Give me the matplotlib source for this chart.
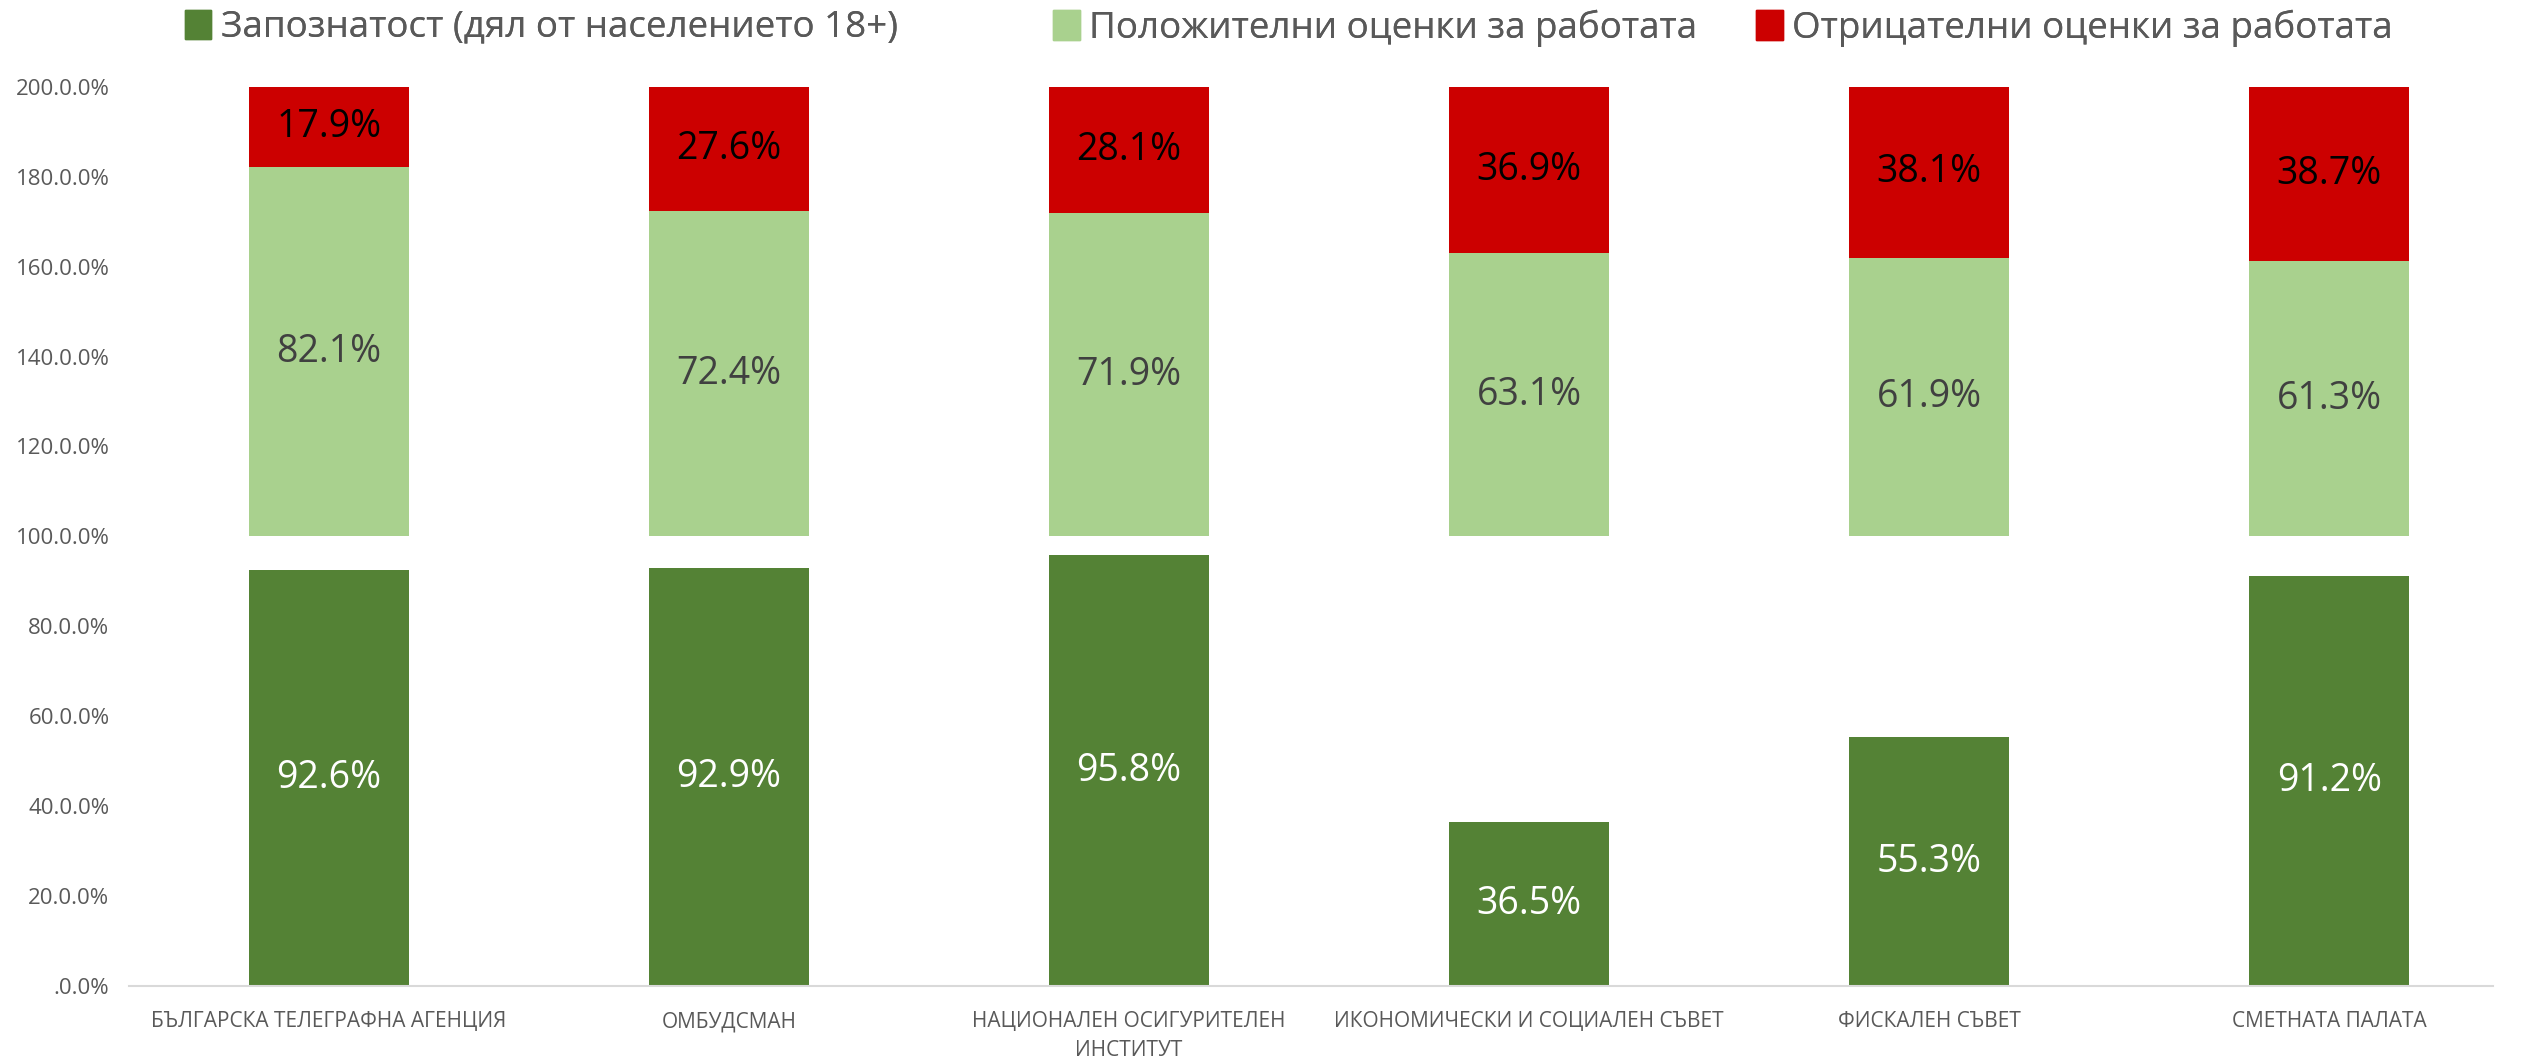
import numpy as np
import matplotlib.pyplot as plt
from matplotlib.patches import Patch

plt.rcParams['font.family'] = ['Open Sans', 'DejaVu Sans']

categories = ['БЪЛГАРСКА ТЕЛЕГРАФНА АГЕНЦИЯ', 'ОМБУДСМАН', 'НАЦИОНАЛЕН ОСИГУРИТЕЛЕН\nИНСТИТУТ',
              'ИКОНОМИЧЕСКИ И СОЦИАЛЕН СЪВЕТ', 'ФИСКАЛЕН СЪВЕТ', 'СМЕТНАТА ПАЛАТА']
awareness = [92.6, 92.9, 95.8, 36.5, 55.3, 91.2]
positive = [82.1, 72.4, 71.9, 63.1, 61.9, 61.3]
negative = [17.9, 27.6, 28.1, 36.9, 38.1, 38.7]
series_names = ['Запознатост (дял от населението 18+)', 'Положителни оценки за работата',
                'Отрицателни оценки за работата']
yticks = [0, 20, 40, 60, 80, 100, 120, 140, 160, 180, 200]
ytick_labels = ['.0.0%', '20.0.0%', '40.0.0%', '60.0.0%', '80.0.0%', '100.0.0%',
                '120.0.0%', '140.0.0%', '160.0.0%', '180.0.0%', '200.0.0%']

c_dark = '#548235'
c_light = '#A9D18E'
c_red = '#CC0000'
colors = [c_dark, c_light, c_red]

fig = plt.figure(figsize=(25.26, 10.58), dpi=100)
ax = fig.add_axes([0.051, 0.068, 0.936, 0.85])

x = np.arange(len(categories))
w = 0.4
pos = np.array(positive)
neg = np.array(negative)
aw = np.array(awareness)

ax.bar(x, aw, w, color=c_dark)
ax.bar(x, pos, w, bottom=100, color=c_light)
ax.bar(x, neg, w, bottom=100 + pos, color=c_red)

# data labels, centred in each segment
for i in range(len(x)):
    ax.text(x[i], aw[i] / 2, '%.1f%%' % aw[i], ha='center', va='center', fontsize=27, color='white')
    ax.text(x[i], 100 + pos[i] / 2, '%.1f%%' % pos[i], ha='center', va='center', fontsize=27, color='#404040')
    ax.text(x[i], 100 + pos[i] + neg[i] / 2, '%.1f%%' % neg[i], ha='center', va='center', fontsize=27, color='black')

ax.set_xlim(-0.5, 5.41)
ax.set_ylim(0, 200)
ax.set_yticks(yticks)
ax.set_yticklabels(ytick_labels, fontsize=16, color='#595959')
ax.set_xticks(x)
ax.set_xticklabels(categories, fontsize=15, color='#595959', linespacing=1.5)
ax.tick_params(axis='x', length=0, pad=18)
ax.tick_params(axis='y', length=0, pad=14)
for s in ['top', 'right', 'left']:
    ax.spines[s].set_visible(False)
ax.spines['bottom'].set_color('#D9D9D9')
ax.spines['bottom'].set_linewidth(1.5)

# legend entries placed one by one (the spacing between them is uneven in the original)
legend_x = [0.0732, 0.4169, 0.6952]
for k in range(3):
    leg = fig.legend([Patch(color=colors[k])], [series_names[k]], loc='upper left',
                     bbox_to_anchor=(legend_x[k], 0.991), frameon=False, fontsize=26.5,
                     labelcolor='#595959', handlelength=0.72, handleheight=0.85,
                     handletextpad=0.25, borderpad=0, borderaxespad=0)
    fig.add_artist(leg)

fig.savefig('out.png', dpi=100)
